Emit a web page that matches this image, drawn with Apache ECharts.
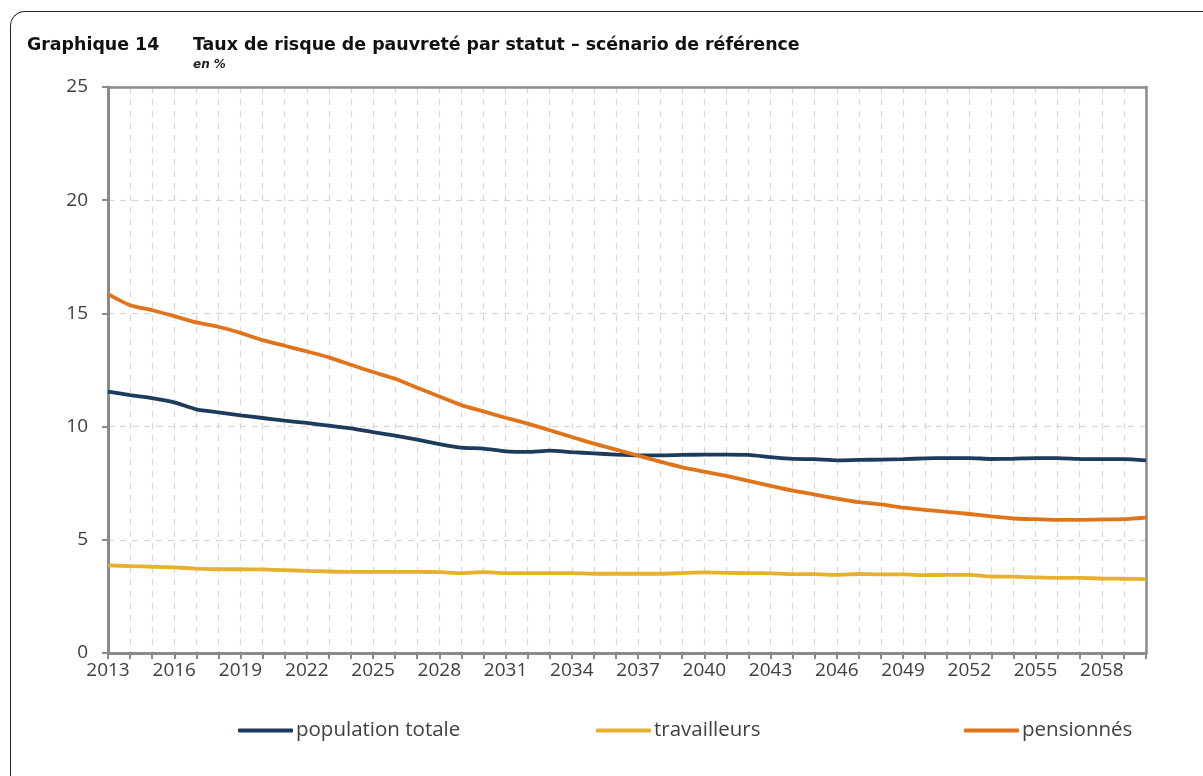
<!DOCTYPE html>
<html>
<head>
<meta charset="utf-8" />
<title>Graphique 14</title>
<script src="https://cdn.jsdelivr.net/npm/echarts@6/dist/echarts.min.js"></script>
<style>
  html, body { margin: 0; padding: 0; background: #fff; }
  #wrap { position: relative; width: 1203px; height: 776px; overflow: hidden; }
  #frame {
    position: absolute; left: 10px; top: 11px; width: 1300px; height: 900px;
    border-top: 1.5px solid #222; border-left: 1.5px solid #222;
    border-top-left-radius: 15px; box-sizing: border-box;
  }
  #chart { position: absolute; left: 0; top: 0; width: 1203px; height: 776px; }
</style>
</head>
<body>
<div id="wrap">
  <div id="frame"></div>
  <div id="chart"></div>
</div>
<script>
// années 2013 → 2060
const years = [];
for (let y = 2013; y <= 2060; y++) years.push(String(y));

const populationTotale = [
  11.55, 11.39, 11.26, 11.07, 10.76, 10.63, 10.50, 10.38, 10.26, 10.16,
  10.04, 9.92, 9.76, 9.60, 9.42, 9.23, 9.07, 9.03, 8.91, 8.88,
  8.94, 8.87, 8.82, 8.76, 8.73, 8.73, 8.75, 8.76, 8.76, 8.75,
  8.65, 8.57, 8.56, 8.51, 8.53, 8.54, 8.56, 8.60, 8.61, 8.61,
  8.57, 8.58, 8.61, 8.61, 8.57, 8.56, 8.56, 8.51
];
const travailleurs = [
  3.87, 3.84, 3.81, 3.78, 3.73, 3.70, 3.70, 3.69, 3.66, 3.63,
  3.60, 3.58, 3.58, 3.58, 3.58, 3.57, 3.53, 3.57, 3.53, 3.53,
  3.53, 3.53, 3.50, 3.50, 3.50, 3.50, 3.53, 3.56, 3.54, 3.53,
  3.52, 3.48, 3.48, 3.45, 3.49, 3.47, 3.47, 3.44, 3.45, 3.45,
  3.38, 3.37, 3.34, 3.32, 3.32, 3.29, 3.28, 3.26
];
const pensionnes = [
  15.85, 15.36, 15.14, 14.88, 14.60, 14.41, 14.14, 13.82, 13.57, 13.32,
  13.06, 12.73, 12.41, 12.11, 11.72, 11.33, 10.95, 10.67, 10.39, 10.13,
  9.84, 9.54, 9.25, 8.98, 8.72, 8.45, 8.20, 8.01, 7.82, 7.60,
  7.38, 7.17, 7.00, 6.82, 6.66, 6.56, 6.42, 6.32, 6.23, 6.14,
  6.03, 5.94, 5.91, 5.88, 5.88, 5.90, 5.91, 5.98
];

const C_BLUE = "#1d3b5c";
const C_YELLOW = "#e6b12e";
const C_ORANGE = "#e0741b";
const AXIS_GREY = "#8a8a8a";
const GRID_GREY = "#d6d6d6";
const FONT = "'Open Sans', 'DejaVu Sans', sans-serif";
const TITLE_FONT = "'DejaVu Sans', sans-serif";

const chart = echarts.init(document.getElementById("chart"), null, { renderer: "canvas" });

function legendAt(name, left) {
  return {
    data: [name], left: left, top: 720, padding: 0,
    icon: "roundRect", itemWidth: 55, itemHeight: 4, itemGap: 0,
    textStyle: { fontFamily: FONT, fontSize: 20.5, color: "#404040", padding: [0, 0, 0, -2] },
    selectedMode: false,
  };
}

function lineSeries(name, data, color) {
  return {
    name, type: "line", data, smooth: 0.2, symbol: "none",
    lineStyle: { color, width: 3.8 }, itemStyle: { color },
  };
}

// cadre du graphique (haut / droite) : axes fantômes sans libellés
const frameAxis = {
  axisLine: { show: true, onZero: false, lineStyle: { color: AXIS_GREY, width: 2.5 } },
  axisTick: { show: false }, axisLabel: { show: false }, splitLine: { show: false },
};

chart.setOption({
  animation: false,
  title: [
    { text: "Graphique 14", left: 27, top: 37, padding: 0,
      textStyle: { fontFamily: TITLE_FONT, fontWeight: "bold", fontSize: 17.4, color: "#111" } },
    { text: "Taux de risque de pauvreté par statut – scénario de référence", left: 193, top: 37, padding: 0,
      textStyle: { fontFamily: TITLE_FONT, fontWeight: "bold", fontSize: 17.4, color: "#111" } },
    { text: "en %", left: 193, top: 59, padding: 0,
      textStyle: { fontFamily: TITLE_FONT, fontStyle: "italic", fontWeight: "bold", fontSize: 12, color: "#222" } },
  ],
  legend: [
    legendAt("population totale", 238),
    legendAt("travailleurs", 596),
    legendAt("pensionnés", 964),
  ],
  grid: { left: 108, right: 57, top: 87, bottom: 123 },
  xAxis: [
    {
      type: "category", data: years, boundaryGap: false,
      axisLine: { lineStyle: { color: AXIS_GREY, width: 3 } },
      axisTick: { show: true, interval: 0, length: 6, lineStyle: { color: AXIS_GREY, width: 2 } },
      axisLabel: { interval: 2, margin: 8, fontFamily: FONT, fontSize: 19, color: "#404040" },
      splitLine: { show: true, interval: 0, showMinLine: false, showMaxLine: false,
        lineStyle: { color: GRID_GREY, type: [6, 6], width: 1.2 } },
    },
    Object.assign({ type: "category", data: years, boundaryGap: false, position: "top" }, frameAxis),
  ],
  yAxis: [
    {
      type: "value", min: 0, max: 25, interval: 5,
      axisLine: { show: true, lineStyle: { color: AXIS_GREY, width: 3 } },
      axisTick: { show: true, length: 6, lineStyle: { color: AXIS_GREY, width: 2 } },
      axisLabel: { margin: 20, fontFamily: FONT, fontSize: 19, color: "#404040" },
      splitLine: { show: true, showMinLine: false, showMaxLine: false,
        lineStyle: { color: GRID_GREY, type: [6, 6], width: 1.2 } },
    },
    Object.assign({ type: "value", min: 0, max: 25, interval: 5, position: "right" }, frameAxis),
  ],
  series: [
    lineSeries("population totale", populationTotale, C_BLUE),
    lineSeries("travailleurs", travailleurs, C_YELLOW),
    lineSeries("pensionnés", pensionnes, C_ORANGE),
  ],
});
window.addEventListener("resize", () => chart.resize());
</script>
</body>
</html>
